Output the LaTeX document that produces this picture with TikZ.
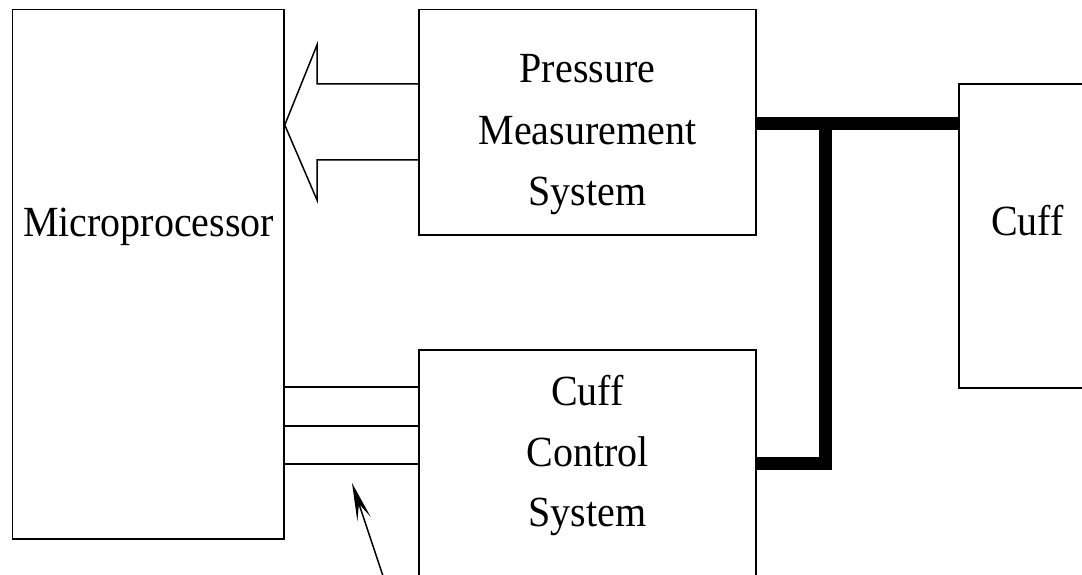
\documentclass[tikz,border=0pt]{standalone}
\usepackage{fontspec}
\setmainfont[FakeStretch=0.93]{Liberation Serif}
\usetikzlibrary{arrows.meta}
\begin{document}
\begin{tikzpicture}[x=1pt,y=-1pt,
  box/.style={draw,line width=1.5pt,inner sep=0pt,fill=none},
  lbl/.style={anchor=base,inner sep=0pt,font=\fontsize{43}{52}\selectfont},
  thin/.style={line width=1.5pt},
  pipe/.style={line width=13pt,line join=miter,line cap=butt}]
\useasboundingbox (0,0) rectangle (1082,575);
\clip (0,0) rectangle (1082,575);
% boxes
\node[box,minimum width=271.5pt,minimum height=529.5pt] (mp) at (148.25,274.25) {};
\node[box,minimum width=337pt,minimum height=225.5pt] (pms) at (587.5,122.25) {};
\node[box,minimum width=337pt,minimum height=260pt] (ccs) at (587.5,480) {};
\node[box,minimum width=160pt,minimum height=304pt] (cuff) at (1039,236) {};
% labels
\node[lbl] (mpt) at (148.5,236) {Microprocessor};
\node[lbl] (pms1) at (587.5,83) {Pressure};
\node[lbl] (pms2) at (587.5,145) {Measurement};
\node[lbl] (pms3) at (587.5,205) {System};
\node[lbl] (ccs1) at (587.5,405) {Cuff};
\node[lbl] (ccs2) at (587.5,466) {Control};
\node[lbl] (ccs3) at (587.5,526) {System};
\node[lbl] (cufft) at (1027.5,235) {Cuff};
% hollow arrow from pms to mp
\draw[thin,line join=miter] (pms.west |- 0,84) -- (317,84) -- (317,45) -- (mp.east |- 0,125) -- (317,200) -- (317,160) -- (pms.west |- 0,160);
% three control lines
\foreach \yy in {387,426,464}
  \draw[thin] (mp.east |- 0,\yy) -- (ccs.west |- 0,\yy);
% thick pipes
\coordinate (j) at (825,124);
\draw[pipe] (pms.east |- j) -- (cuff.west |- j);
\draw[pipe] (j) -- (825,463) -- (ccs.east |- 0,463);
% pointer arrow
\coordinate (tail) at (383,576);
\coordinate (tip) at (352,483);
\draw[line width=1.5pt,-{Stealth[length=38pt,width=14pt,inset=16pt]}] (tail) -- (tip);
\end{tikzpicture}
\end{document}
